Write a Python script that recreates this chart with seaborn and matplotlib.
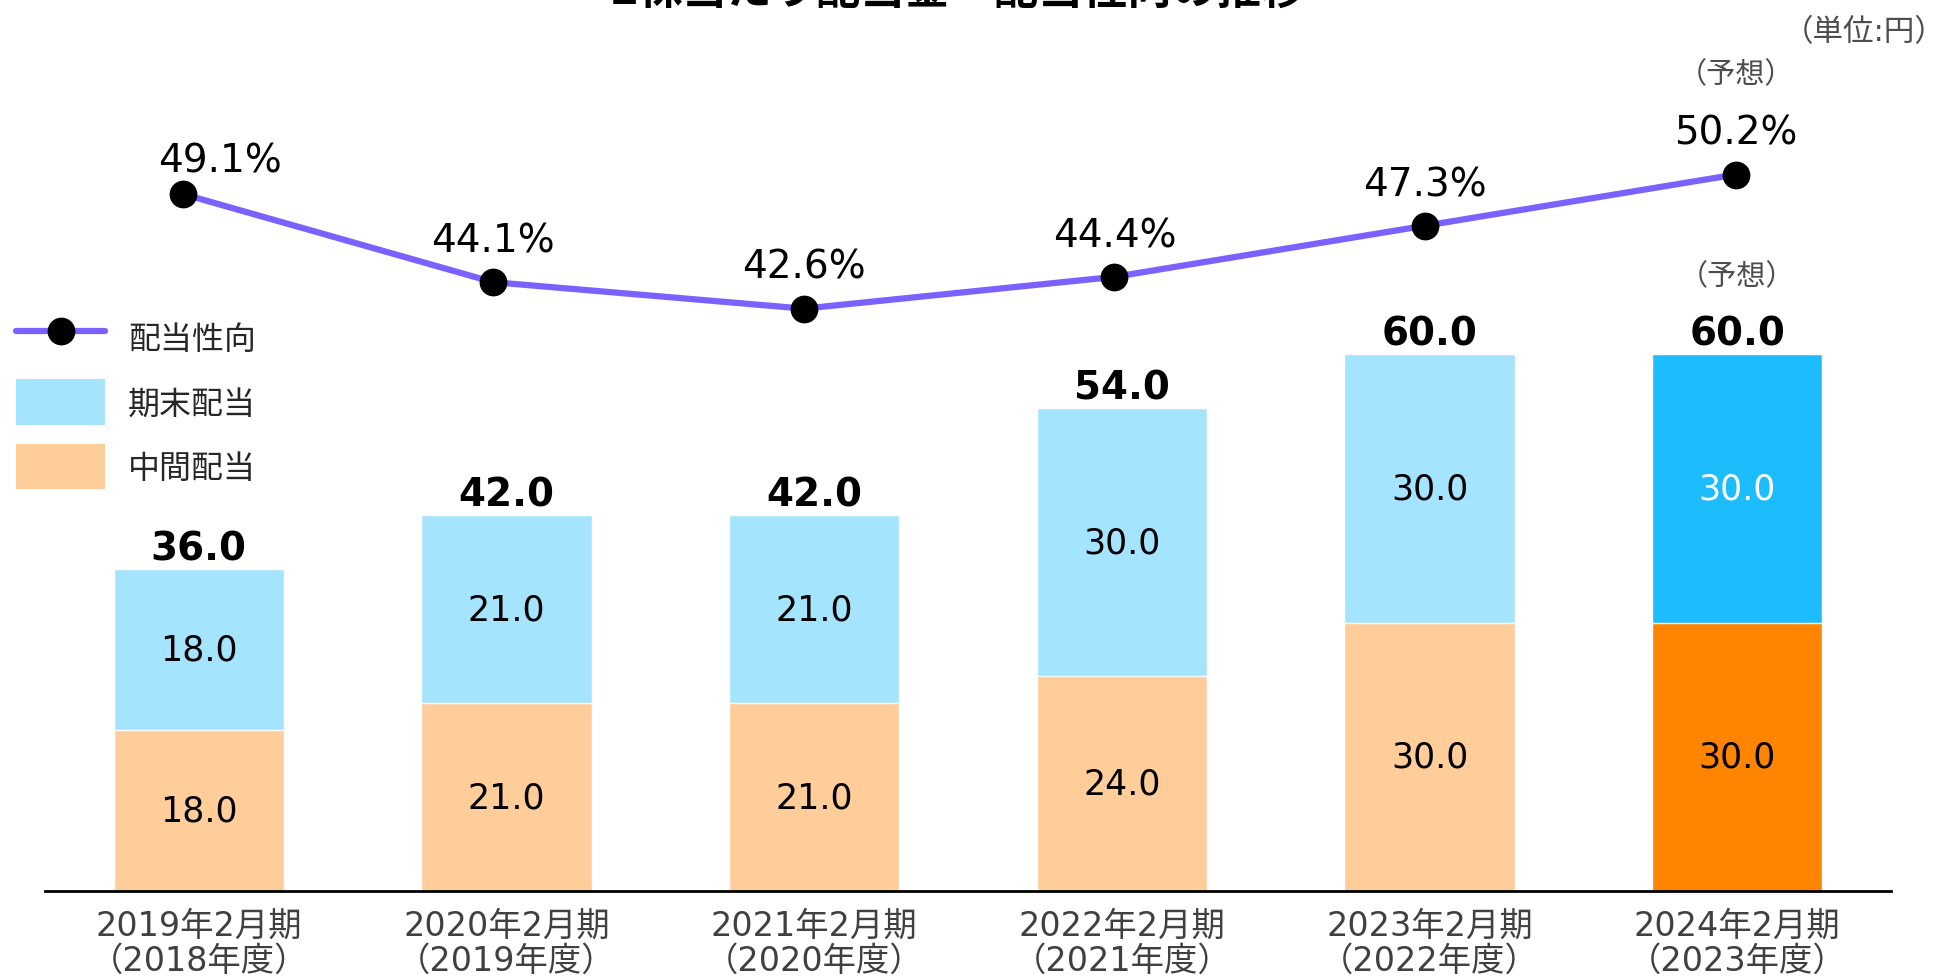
import matplotlib
matplotlib.use("Agg")
import matplotlib.pyplot as plt
import seaborn as sns
import pandas as pd
from matplotlib.lines import Line2D
from matplotlib.patches import Patch

sns.set_theme(style="white")
plt.rcParams['font.family'] = ['DejaVu Sans', 'Noto Sans CJK JP']

# data
periods = ['2019年2月期', '2020年2月期', '2021年2月期', '2022年2月期', '2023年2月期', '2024年2月期']
fiscal_years = ['（2018年度）', '（2019年度）', '（2020年度）', '（2021年度）', '（2022年度）', '（2023年度）']
interim = [18.0, 21.0, 21.0, 24.0, 30.0, 30.0]
year_end = [18.0, 21.0, 21.0, 30.0, 30.0, 30.0]
payout = [49.1, 44.1, 42.6, 44.4, 47.3, 50.2]

title = '1株当たり配当金・配当性向の推移'

light_blue = '#A4E4FE'
light_orange = '#FECD9A'
blue = '#1DBCFD'
orange = '#FF8500'
purple = '#7B61FF'
gray = '#4D4D4D'

df = pd.DataFrame({
    'period': periods,
    'interim': interim,
    'year_end': year_end,
})
df['total'] = df['interim'] + df['year_end']

fig = plt.figure(figsize=(19.48, 9.78), dpi=100)
rect = [45 / 1948, 86 / 978, (1891 - 45) / 1948, 1 - 86 / 978]
ax = fig.add_axes(rect)

top_colors = [light_blue] * 5 + [blue]
bottom_colors = [light_orange] * 5 + [orange]

sns.barplot(data=df, x='period', y='total', hue='period', palette=top_colors,
            width=0.553, legend=False, ax=ax, saturation=1)
sns.barplot(data=df, x='period', y='interim', hue='period', palette=bottom_colors,
            width=0.553, legend=False, ax=ax, saturation=1)

ax.set_xlim(-0.5, 5.5)
ax.set_ylim(0, 99.7)
ax.set_xlabel('')
ax.set_ylabel('')
ax.set_yticks([])
ax.set_xticks(range(len(periods)))
ax.set_xticklabels([p + '\n' + f for p, f in zip(periods, fiscal_years)],
                   fontsize=24, color='#404040', linespacing=1.07)
ax.tick_params(axis='x', length=0, pad=13)
for s in ['top', 'left', 'right']:
    ax.spines[s].set_visible(False)
ax.spines['bottom'].set_color('black')
ax.spines['bottom'].set_linewidth(2)

for i, row in df.iterrows():
    ax.text(i, row['interim'] / 2, f"{row['interim']:.1f}", ha='center', va='center',
            fontsize=25, color='black')
    ax.text(i, row['interim'] + row['year_end'] / 2, f"{row['year_end']:.1f}",
            ha='center', va='center', fontsize=25,
            color='white' if i == len(df) - 1 else 'black')
    ax.annotate(f"{row['total']:.1f}", (i, row['total']), xytext=(0, 1),
                textcoords='offset points', ha='center', va='bottom',
                fontsize=28, fontweight='bold', color='black')
ax.annotate('（予想）', (5, df['total'].iloc[-1]), xytext=(0, 56),
            textcoords='offset points', ha='center', va='center',
            fontsize=21, color=gray)

# payout ratio line on its own axes
ax2 = fig.add_axes(rect)
ax2.patch.set_alpha(0)
sns.lineplot(x=list(range(len(payout))), y=payout, ax=ax2, color=purple, linewidth=4.5,
             marker='o', markersize=20, markerfacecolor='black', markeredgewidth=0)
ax2.set_xlim(-0.443, 5.5)
ax2.set_ylim(9.59, 60.15)
ax2.axis('off')
for i, p in enumerate(payout):
    dx = 27 if i == 0 else 0
    dy = 24 if i == 0 else 30
    ax2.annotate(f"{p:.1f}%", (i, p), xytext=(dx, dy), textcoords='offset points',
                 ha='center', va='center', fontsize=28, color='black')
ax2.annotate('（予想）', (5, payout[-1]), xytext=(0, 72), textcoords='offset points',
             ha='center', va='center', fontsize=21, color=gray)

handles = [
    Line2D([0], [0], color=purple, linewidth=4.5, marker='o', markersize=20,
           markerfacecolor='black', markeredgewidth=0),
    Patch(facecolor=light_blue, edgecolor='none'),
    Patch(facecolor=light_orange, edgecolor='none'),
]
fig.legend(handles, ['配当性向', '期末配当', '中間配当'], loc='upper left',
           bbox_to_anchor=(16 / 1948, 1 - 316 / 978), frameon=False, fontsize=23,
           handlelength=2.8, handleheight=1.8, labelspacing=0.6, handletextpad=0.7,
           borderpad=0, borderaxespad=0)

fig.text(1946 / 1948, 1 - 33 / 978, '（単位:円）', ha='right', va='center',
         fontsize=22, color=gray)
fig.text(957 / 1948, 1 - 4 / 978, title, ha='center', va='baseline',
         fontsize=32, fontweight='bold', color='black')

fig.savefig('out.png', dpi=100)
